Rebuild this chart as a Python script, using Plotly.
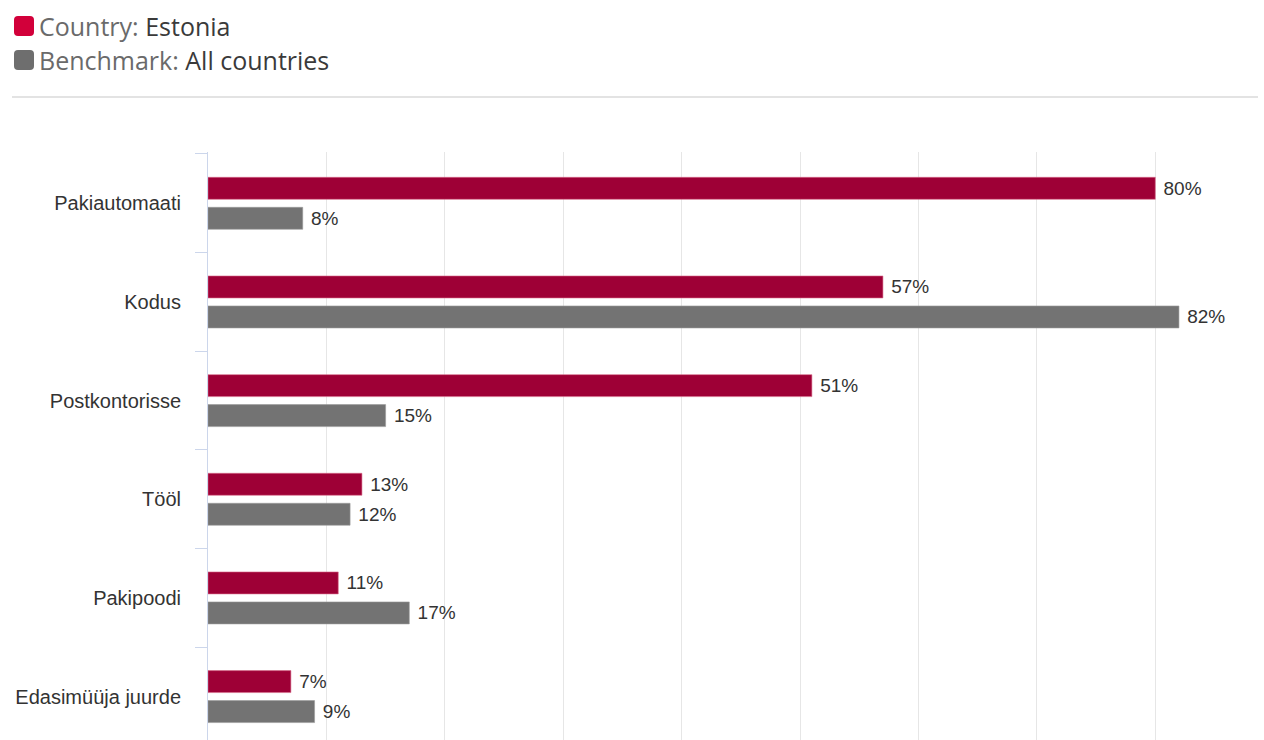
import plotly.graph_objects as go

categories = ["Pakiautomaati", "Kodus", "Postkontorisse", "Tööl", "Pakipoodi", "Edasimüüja juurde"]
estonia = [80, 57, 51, 13, 11, 7]
all_countries = [8, 82, 15, 12, 17, 9]

RED = "#9E0036"
GREY = "#737373"
W, H = 1264, 740
ML, MR, MT, MB = 208, 14, 152, 0

fig = go.Figure()
fig.add_trace(go.Bar(
    y=categories, x=estonia, orientation="h", name="Country: Estonia",
    marker=dict(color=RED, line=dict(color="#d86a8a", width=0.6)),
    text=[f"\u00a0{v}%" for v in estonia], textposition="outside",
    textfont=dict(family="Liberation Sans, Arial", size=19, color="#333333"),
    cliponaxis=False, hoverinfo="skip",
))
fig.add_trace(go.Bar(
    y=categories, x=all_countries, orientation="h", name="Benchmark: All countries",
    marker=dict(color=GREY, line=dict(color="#9a9a9a", width=0.6)),
    text=[f"\u00a0{v}%" for v in all_countries], textposition="outside",
    textfont=dict(family="Liberation Sans, Arial", size=19, color="#333333"),
    cliponaxis=False, hoverinfo="skip",
))

fig.update_layout(
    width=W, height=H,
    margin=dict(l=ML, r=MR, t=MT, b=MB),
    paper_bgcolor="white", plot_bgcolor="white",
    barmode="group", bargap=0.392, bargroupgap=0.267,
    showlegend=False,
    xaxis=dict(range=[0, 88], dtick=10, showgrid=True, gridcolor="#e6e6e6", gridwidth=1,
               showticklabels=False, zeroline=False, showline=False, fixedrange=True),
    yaxis=dict(type="category", categoryorder="array", categoryarray=categories,
               range=[5.44, -0.52], showline=True, linecolor="#ccd6eb", linewidth=1,
               ticks="outside", tickson="boundaries", ticklen=12, tickcolor="#ccd6eb",
               ticklabelstandoff=22,
               tickfont=dict(family="Liberation Sans, Arial", size=20, color="#333333"),
               showgrid=False, fixedrange=True),
    font=dict(family="Liberation Sans, Arial"),
)

PW = W - ML - MR
PH = H - MT - MB
def px(x): return (x - ML) / PW
def py(y): return (H - MB - y) / PH

for (y0, col) in [(16, "#D2003A"), (50, "#6E6E6E")]:
    x0, s, r = 14, 20, 4
    fig.add_shape(type="path", xref="paper", yref="paper",
                  path=(f"M {px(x0+r)},{py(y0)} L {px(x0+s-r)},{py(y0)} Q {px(x0+s)},{py(y0)} {px(x0+s)},{py(y0+r)} "
                        f"L {px(x0+s)},{py(y0+s-r)} Q {px(x0+s)},{py(y0+s)} {px(x0+s-r)},{py(y0+s)} "
                        f"L {px(x0+r)},{py(y0+s)} Q {px(x0)},{py(y0+s)} {px(x0)},{py(y0+s-r)} "
                        f"L {px(x0)},{py(y0+r)} Q {px(x0)},{py(y0)} {px(x0+r)},{py(y0)} Z"),
                  line=dict(width=0), fillcolor=col)

fig.add_shape(type="line", xref="paper", yref="paper",
              x0=px(12), x1=px(1258), y0=py(97), y1=py(97),
              line=dict(color="#e3e3e3", width=2))

legend_texts = [
    (26, "Country: <span style='color:#3a3a3a'>Estonia</span>"),
    (60, "Benchmark: <span style='color:#3a3a3a'>All countries</span>"),
]
for yc, t in legend_texts:
    fig.add_annotation(xref="paper", yref="paper", x=px(37), y=py(yc),
                       xanchor="left", yanchor="middle", showarrow=False,
                       text=t, font=dict(family="Open Sans", size=25, color="#6a6a6a"))

fig.write_html("out.html")
